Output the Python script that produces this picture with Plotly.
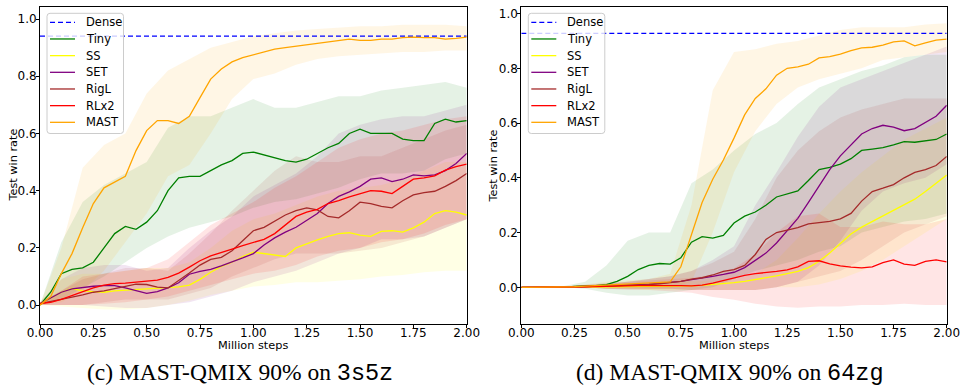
import plotly.graph_objects as go

W, H = 965, 390

# ---------------- data ----------------
steps = [round(i * 0.05, 2) for i in range(41)]        # million steps, mean curves
band_steps = [round(i * 0.1, 1) for i in range(21)]    # million steps, spread bands
names = ["Tiny", "SS", "SET", "RigL", "RLx2", "MAST"]
legend_names = ["Dense"] + names

# 3s5z
dense_3s5z = 0.94
mean_3s5z = {
    "Tiny": [0, 0.045, 0.11, 0.125, 0.13, 0.15, 0.2, 0.25, 0.275, 0.265, 0.29, 0.33, 0.4, 0.445, 0.45,
             0.45, 0.47, 0.49, 0.505, 0.53, 0.535, 0.525, 0.515, 0.505, 0.5, 0.51, 0.53, 0.55, 0.565,
             0.6, 0.615, 0.6, 0.6, 0.6, 0.58, 0.575, 0.575, 0.635, 0.65, 0.64, 0.645],
    "SS": [0.005, 0.025, 0.045, 0.058, 0.05, 0.047, 0.045, 0.05, 0.052, 0.055, 0.058, 0.06, 0.062,
           0.064, 0.07, 0.09, 0.115, 0.135, 0.15, 0.17, 0.185, 0.18, 0.175, 0.17, 0.2, 0.215, 0.228,
           0.24, 0.25, 0.253, 0.245, 0.24, 0.258, 0.26, 0.255, 0.27, 0.29, 0.32, 0.33, 0.325, 0.315],
    "SET": [0.005, 0.025, 0.045, 0.057, 0.062, 0.066, 0.068, 0.068, 0.06, 0.05, 0.041, 0.047, 0.06,
            0.078, 0.108, 0.118, 0.125, 0.137, 0.15, 0.165, 0.18, 0.21, 0.235, 0.255, 0.272, 0.295,
            0.32, 0.355, 0.38, 0.396, 0.415, 0.44, 0.445, 0.432, 0.44, 0.455, 0.452, 0.455, 0.47,
            0.495, 0.53],
    "RigL": [0.005, 0.012, 0.02, 0.028, 0.036, 0.045, 0.05, 0.058, 0.065, 0.073, 0.072, 0.063, 0.06,
             0.085, 0.112, 0.14, 0.16, 0.167, 0.19, 0.225, 0.26, 0.272, 0.295, 0.315, 0.33, 0.34,
             0.333, 0.31, 0.305, 0.33, 0.36, 0.355, 0.345, 0.34, 0.365, 0.385, 0.393, 0.398, 0.415,
             0.435, 0.46],
    "RLx2": [0.005, 0.01, 0.02, 0.033, 0.048, 0.06, 0.07, 0.075, 0.077, 0.08, 0.083, 0.087, 0.097,
             0.112, 0.133, 0.155, 0.172, 0.183, 0.196, 0.208, 0.22, 0.23, 0.25, 0.28, 0.31, 0.325,
             0.335, 0.355, 0.365, 0.378, 0.39, 0.4, 0.398, 0.39, 0.415, 0.44, 0.445, 0.452, 0.472,
             0.484, 0.493],
    "MAST": [0, 0.03, 0.11, 0.18, 0.27, 0.355, 0.41, 0.43, 0.45, 0.54, 0.61, 0.645, 0.645, 0.635,
             0.66, 0.725, 0.79, 0.825, 0.85, 0.865, 0.875, 0.885, 0.895, 0.9, 0.905, 0.91, 0.915,
             0.92, 0.925, 0.93, 0.925, 0.925, 0.93, 0.93, 0.935, 0.937, 0.935, 0.935, 0.93, 0.932,
             0.937],
}
low_3s5z = {
    "Tiny": [0, 0.02, 0.06, 0.1, 0.15, 0.2, 0.24, 0.27, 0.29, 0.31, 0.34, 0.36, 0.37, 0.39, 0.41,
             0.44, 0.46, 0.46, 0.47, 0.51, 0.53],
    "SS": [0, -0.005, -0.01, -0.015, -0.015, -0.01, 0.0, 0.015, 0.035, 0.05, 0.065, 0.07, 0.08, 0.08,
           0.085, 0.09, 0.1, 0.105, 0.115, 0.12, 0.12],
    "SET": [0, 0.0, 0.0, -0.005, -0.01, -0.01, 0.0, 0.01, 0.03, 0.05, 0.08, 0.1, 0.12, 0.15, 0.18,
            0.2, 0.23, 0.23, 0.24, 0.27, 0.3],
    "RigL": [0, 0.0, 0.0, 0.01, 0.02, 0.02, 0.02, 0.04, 0.06, 0.1, 0.13, 0.16, 0.18, 0.18, 0.18,
             0.19, 0.2, 0.22, 0.24, 0.27, 0.3],
    "RLx2": [0, 0.0, 0.0, 0.005, 0.01, 0.02, 0.03, 0.05, 0.07, 0.09, 0.11, 0.12, 0.14, 0.17, 0.19,
             0.2, 0.22, 0.23, 0.25, 0.28, 0.3],
    "MAST": [0, 0.01, 0.05, 0.12, 0.22, 0.32, 0.45, 0.49, 0.6, 0.72, 0.79, 0.81, 0.84, 0.86, 0.87,
             0.875, 0.88, 0.885, 0.885, 0.89, 0.89],
}
high_3s5z = {
    "Tiny": [0, 0.22, 0.36, 0.42, 0.46, 0.5, 0.62, 0.66, 0.66, 0.69, 0.72, 0.69, 0.69, 0.71, 0.73,
             0.73, 0.75, 0.76, 0.77, 0.78, 0.76],
    "SS": [0.01, 0.09, 0.11, 0.11, 0.12, 0.13, 0.13, 0.15, 0.2, 0.26, 0.3, 0.32, 0.35, 0.38, 0.4,
           0.41, 0.42, 0.44, 0.47, 0.5, 0.5],
    "SET": [0.01, 0.09, 0.13, 0.14, 0.14, 0.12, 0.13, 0.2, 0.26, 0.31, 0.38, 0.42, 0.46, 0.52, 0.6,
            0.63, 0.65, 0.66, 0.66, 0.68, 0.7],
    "RigL": [0.01, 0.05, 0.09, 0.11, 0.13, 0.13, 0.12, 0.18, 0.25, 0.33, 0.4, 0.47, 0.52, 0.5, 0.5,
             0.52, 0.52, 0.55, 0.58, 0.61, 0.63],
    "RLx2": [0.01, 0.05, 0.1, 0.11, 0.12, 0.13, 0.16, 0.22, 0.28, 0.32, 0.36, 0.41, 0.45, 0.5, 0.55,
             0.58, 0.6, 0.61, 0.63, 0.65, 0.66],
    "MAST": [0, 0.2, 0.48, 0.56, 0.6, 0.74, 0.82, 0.86, 0.9, 0.92, 0.94, 0.95, 0.96, 0.965, 0.97,
             0.975, 0.975, 0.98, 0.98, 0.98, 0.975],
}

# 64zg
dense_64zg = 0.928
mean_64zg = {
    "Tiny": [0, 0, 0, 0, 0, 0.003, 0.004, 0.006, 0.01, 0.022, 0.04, 0.065, 0.08, 0.087, 0.085,
             0.108, 0.165, 0.185, 0.18, 0.19, 0.235, 0.26, 0.275, 0.3, 0.33, 0.34, 0.352, 0.39,
             0.43, 0.438, 0.45, 0.47, 0.5, 0.505, 0.51, 0.52, 0.532, 0.53, 0.535, 0.54, 0.56],
    "SS": [0, 0, 0, 0, 0, 0.001, 0.001, 0.002, 0.002, 0.002, 0.003, 0.003, 0.003, 0.003, 0.003,
           0.004, 0.005, 0.007, 0.01, 0.013, 0.017, 0.022, 0.028, 0.035, 0.042, 0.05, 0.058, 0.072,
           0.095, 0.125, 0.16, 0.195, 0.22, 0.24, 0.26, 0.28, 0.3, 0.322, 0.35, 0.38, 0.41],
    "SET": [0, 0, 0, 0, 0.001, 0.002, 0.003, 0.004, 0.005, 0.007, 0.008, 0.01, 0.012, 0.015, 0.018,
            0.022, 0.028, 0.033, 0.04, 0.047, 0.055, 0.072, 0.097, 0.125, 0.162, 0.205, 0.252,
            0.31, 0.37, 0.43, 0.48, 0.52, 0.56, 0.58, 0.592, 0.585, 0.572, 0.58, 0.603, 0.625,
            0.665],
    "RigL": [0, 0, 0, 0, 0.001, 0.002, 0.003, 0.004, 0.005, 0.006, 0.007, 0.008, 0.01, 0.013,
             0.017, 0.022, 0.03, 0.035, 0.045, 0.058, 0.065, 0.08, 0.12, 0.175, 0.2, 0.21, 0.218,
             0.232, 0.237, 0.241, 0.25, 0.27, 0.315, 0.35, 0.362, 0.375, 0.4, 0.42, 0.43, 0.445,
             0.478],
    "RLx2": [0, 0, 0, 0, 0.001, 0.002, 0.002, 0.003, 0.003, 0.003, 0.005, 0.006, 0.006, 0.007,
             0.008, 0.006, 0.005, 0.008, 0.015, 0.024, 0.033, 0.044, 0.05, 0.053, 0.058, 0.064,
             0.075, 0.095, 0.097, 0.086, 0.078, 0.074, 0.071, 0.075, 0.09, 0.1, 0.085, 0.08, 0.095,
             0.1, 0.093],
    "MAST": [0, 0, 0, 0, 0, 0.002, 0.004, 0.006, 0.008, 0.01, 0.012, 0.015, 0.017, 0.018, 0.02,
             0.075, 0.19, 0.31, 0.395, 0.465, 0.545, 0.63, 0.69, 0.725, 0.775, 0.8, 0.805, 0.815,
             0.838, 0.843, 0.852, 0.865, 0.875, 0.877, 0.885, 0.897, 0.9, 0.882, 0.893, 0.903,
             0.907],
}
low_64zg = {
    "Tiny": [0, 0, 0, -0.005, -0.02, -0.03, -0.03, -0.02, -0.01, 0.0, 0.03, 0.06, 0.08, 0.1, 0.13,
             0.15, 0.2, 0.22, 0.24, 0.25, 0.27],
    "SS": [0, 0, 0, 0, -0.005, -0.005, -0.01, -0.01, -0.01, -0.01, -0.01, -0.01, 0.0, 0.0, 0.01,
           0.03, 0.06, 0.1, 0.15, 0.2, 0.25],
    "SET": [0, 0, 0, 0, -0.005, -0.005, -0.005, -0.005, -0.01, -0.01, -0.01, -0.01, 0.0, 0.02, 0.08,
            0.17, 0.28, 0.35, 0.38, 0.4, 0.45],
    "RigL": [0, 0, 0, 0, -0.005, -0.005, -0.005, -0.005, -0.01, -0.01, -0.01, -0.01, 0.0, 0.02,
             0.04, 0.06, 0.1, 0.15, 0.2, 0.23, 0.26],
    "RLx2": [0, 0, 0, 0, -0.005, -0.01, -0.01, -0.015, -0.02, -0.035, -0.045, -0.06, -0.07, -0.075,
             -0.07, -0.07, -0.065, -0.065, -0.06, -0.065, -0.065],
    "MAST": [0, 0, 0, 0, -0.005, -0.005, -0.005, -0.005, 0.02, 0.2, 0.42, 0.57, 0.67, 0.73, 0.76,
             0.78, 0.8, 0.83, 0.84, 0.85, 0.86],
}
high_64zg = {
    "Tiny": [0, 0, 0.005, 0.02, 0.08, 0.17, 0.2, 0.2, 0.38, 0.43, 0.5, 0.56, 0.6, 0.67, 0.73, 0.76,
             0.79, 0.81, 0.84, 0.85, 0.85],
    "SS": [0, 0, 0.002, 0.005, 0.01, 0.012, 0.015, 0.018, 0.02, 0.025, 0.03, 0.05, 0.1, 0.18, 0.27,
           0.35, 0.42, 0.48, 0.54, 0.58, 0.62],
    "SET": [0, 0, 0.003, 0.008, 0.015, 0.02, 0.03, 0.04, 0.06, 0.1, 0.15, 0.3, 0.42, 0.55, 0.66,
            0.73, 0.76, 0.79, 0.82, 0.85, 0.88],
    "RigL": [0, 0, 0.003, 0.008, 0.015, 0.02, 0.03, 0.04, 0.06, 0.09, 0.13, 0.25, 0.4, 0.5, 0.57,
             0.62, 0.65, 0.67, 0.69, 0.69, 0.69],
    "RLx2": [0, 0, 0.003, 0.008, 0.012, 0.02, 0.025, 0.03, 0.035, 0.045, 0.07, 0.12, 0.2, 0.26,
             0.27, 0.22, 0.22, 0.24, 0.23, 0.23, 0.25],
    "MAST": [0, 0, 0.003, 0.01, 0.02, 0.025, 0.03, 0.05, 0.3, 0.72, 0.86, 0.87, 0.89, 0.9, 0.92,
             0.94, 0.95, 0.95, 0.95, 0.96, 0.965],
}

# ---------------- style ----------------
colors = {
    "Dense": (0, 0, 255),
    "Tiny": (0, 128, 0),
    "SS": (255, 255, 0),
    "SET": (128, 0, 128),
    "RigL": (165, 42, 42),
    "RLx2": (255, 0, 0),
    "MAST": (255, 165, 0),
}
TICK_FONT = dict(family="DejaVu Sans", size=12, color="black")
LINE_W = 1.3
DENSE_DASH = "5px,3px"


def rgb(c, a=None):
    if a is None:
        return "rgb(%d,%d,%d)" % c
    return "rgba(%d,%d,%d,%.2f)" % (c + (a,))


fig = go.Figure()


def add_panel(xa, ya, dense, means, lows, highs):
    for series in (means, lows, highs):
        for n in names:
            need = len(steps) if series is means else len(band_steps)
            if len(series[n]) != need:
                raise ValueError("length mismatch for %s" % n)
    # spread bands first so all mean curves sit on top
    for n in names:
        fig.add_trace(go.Scatter(
            x=band_steps + band_steps[::-1],
            y=highs[n] + lows[n][::-1],
            fill="toself", fillcolor=rgb(colors[n], 0.1),
            line=dict(width=0), mode="lines", hoverinfo="skip",
            showlegend=False, xaxis=xa, yaxis=ya))
    fig.add_trace(go.Scatter(
        x=[steps[0], steps[-1]], y=[dense, dense], mode="lines", name="Dense",
        line=dict(color=rgb(colors["Dense"]), width=LINE_W, dash=DENSE_DASH),
        showlegend=False, xaxis=xa, yaxis=ya))
    for n in names:
        fig.add_trace(go.Scatter(
            x=steps, y=means[n], mode="lines", name=n,
            line=dict(color=rgb(colors[n]), width=LINE_W),
            showlegend=False, xaxis=xa, yaxis=ya))


add_panel("x", "y", dense_3s5z, mean_3s5z, low_3s5z, high_3s5z)
add_panel("x2", "y2", dense_64zg, mean_64zg, low_64zg, high_64zg)

ydom = [1 - 324 / H, 1 - 7 / H]
common_x = dict(range=[0, 2], tick0=0, dtick=0.25, tickformat=".2f", showgrid=False,
                zeroline=False, showline=True, mirror=True, linecolor="black", linewidth=1,
                ticks="outside", ticklen=3, tickcolor="black", tickfont=TICK_FONT,
                ticklabelstandoff=-5, automargin=False)
common_y = dict(tick0=0, dtick=0.2, tickformat=".1f", showgrid=False, zeroline=False,
                showline=True, mirror=True, linecolor="black", linewidth=1,
                ticks="outside", ticklen=3, tickcolor="black", tickfont=TICK_FONT,
                ticklabelstandoff=-3, automargin=False)

fig.update_layout(
    width=W, height=H, margin=dict(l=0, r=0, t=0, b=0, autoexpand=False),
    paper_bgcolor="white", plot_bgcolor="white", showlegend=False,
    xaxis=dict(domain=[40 / W, 466.7 / W], anchor="y", **common_x),
    yaxis=dict(domain=ydom, anchor="x", range=[-0.066, 1.042], **common_y),
    xaxis2=dict(domain=[521.3 / W, 946.7 / W], anchor="y2", **common_x),
    yaxis2=dict(domain=ydom, anchor="x2", range=[-0.134, 1.024], **common_y),
)

label_font = dict(family="DejaVu Sans", size=11.3, color="black")
legend_font = dict(family="DejaVu Sans", size=11.5, color="black")
serif = "Liberation Serif"
mono = "Liberation Mono"


def caption(letter, env):
    return ('(%s) MAST-QMIX 90%% on <span style="font-family:%s">%s</span>' % (letter, mono, env))


def px(x):
    return x / W


def py(y):
    return 1 - y / H


annotations = []
shapes = []
panels = [
    dict(left=40, center=253, ylabel_x=13, cap_x=240, cap=caption("c", "3s5z")),
    dict(left=521.3, center=734, ylabel_x=493, cap_x=730, cap=caption("d", "64zg")),
]
for p in panels:
    annotations.append(dict(text="Million steps", x=px(p["center"]), y=py(345), xref="paper",
                            yref="paper", showarrow=False, font=label_font,
                            xanchor="center", yanchor="middle"))
    annotations.append(dict(text="Test win rate", x=px(p["ylabel_x"]), y=py(165.5), xref="paper",
                            yref="paper", showarrow=False, font=label_font, textangle=-90,
                            xanchor="center", yanchor="middle"))
    annotations.append(dict(text=p["cap"], x=px(p["cap_x"]), y=py(373), xref="paper",
                            yref="paper", showarrow=False,
                            font=dict(family=serif, size=23.5, color="black"),
                            xanchor="center", yanchor="middle"))

    # legend box (semi-transparent, rounded corners) with line samples and labels
    x0, x1 = p["left"] + 7, p["left"] + 83.5
    y0, y1 = 13.3, 133.5
    r = 3
    path = ("M {a},{b} L {c},{b} Q {x1},{b} {x1},{d} L {x1},{e} Q {x1},{y1} {c},{y1} "
            "L {a},{y1} Q {x0},{y1} {x0},{e} L {x0},{d} Q {x0},{b} {a},{b} Z").format(
        a=px(x0 + r), b=py(y0), c=px(x1 - r), d=py(y0 + r), e=py(y1 - r),
        x0=px(x0), x1=px(x1), y1=py(y1))
    shapes.append(dict(type="path", path=path, xref="paper", yref="paper",
                       fillcolor="rgba(255,255,255,0.8)", line=dict(color="#cccccc", width=1),
                       layer="above"))
    for i, n in enumerate(legend_names):
        yy = 22.3 + i * 16.67
        shapes.append(dict(type="line", xref="paper", yref="paper",
                           x0=px(p["left"] + 10), x1=px(p["left"] + 35), y0=py(yy), y1=py(yy),
                           line=dict(color=rgb(colors[n]), width=LINE_W,
                                     dash=DENSE_DASH if n == "Dense" else "solid"),
                           layer="above"))
        annotations.append(dict(text=n, x=px(p["left"] + 43.5), y=py(yy), xref="paper",
                                yref="paper", showarrow=False, font=legend_font,
                                xanchor="left", yanchor="middle"))

fig.update_layout(annotations=annotations, shapes=shapes)

fig.write_html("out.html")
